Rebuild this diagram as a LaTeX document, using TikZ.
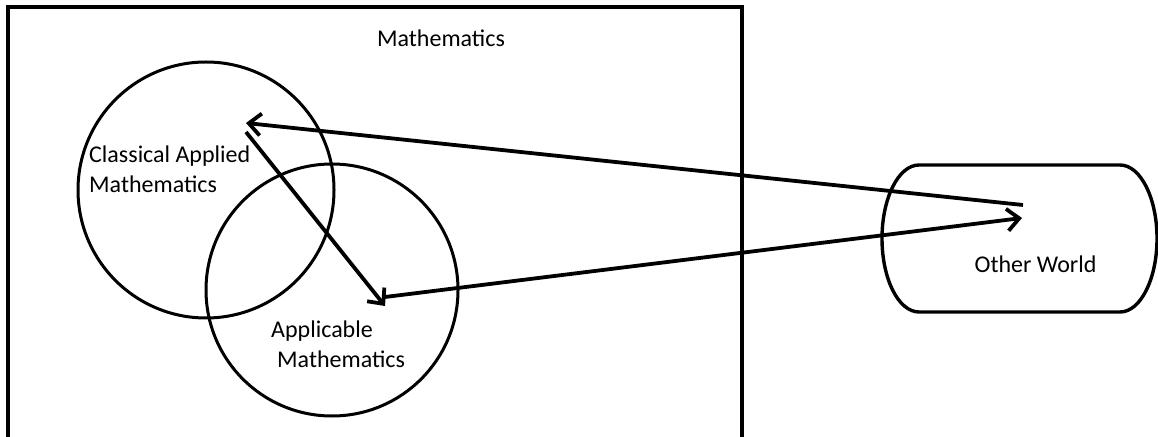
\documentclass[tikz,border=0pt]{standalone}
\usepackage{fontspec}
\setmainfont{Carlito}
\usetikzlibrary{arrows.meta}

\begin{document}
\begin{tikzpicture}[x=1pt,y=1pt,
  ring/.style={draw=black, line width=3pt, circle, inner sep=0pt},
  arr/.style={black, line width=3.8pt, -{Straight Barb[length=12pt,width=22pt]}},
  lbl/.style={inner sep=0pt, font=\fontsize{24}{30}\selectfont}]
\useasboundingbox (0,0) rectangle (1158,436);

% frame of mathematics
\draw[line width=4.2pt] (8,-10) -- (8,429) -- (742,429) -- (742,-10);
\node[lbl, anchor=base] (mathtitle) at (441,389) {Mathematics};

% the two circles
\node[ring, minimum size=256pt] (cam) at (206,246) {};
\node[ring, minimum size=252pt] (am) at (332,146) {};
\node[lbl, anchor=base west, align=left] (camtext) at (89,243) {Classical Applied\\Mathematics};
\node[lbl, anchor=base west, align=left] (amtext) at (271,68) {Applicable\\\hspace*{6pt}Mathematics};

% other world
\draw[line width=3.4pt] (919,271) -- (1120,271)
  arc[start angle=90, end angle=-90, x radius=37, y radius=73.5] -- (919,124)
  arc[start angle=270, end angle=90, x radius=37, y radius=73.5] -- cycle;
\node[lbl, anchor=base] (owtext) at (1035.5,163) {Other World};

% arrow ends
\coordinate (camtip) at (246,313);
\coordinate (camstart) at (246,304);
\coordinate (amtip) at (385,130);
\coordinate (amstart) at (385,139);
\coordinate (owtip) at (1022,218);
\coordinate (owstart) at (1023,231);

\draw[arr] (owstart) -- (camtip);
\draw[arr] (camstart) -- (amtip);
\draw[arr] (amstart) -- (owtip);
\end{tikzpicture}
\end{document}
